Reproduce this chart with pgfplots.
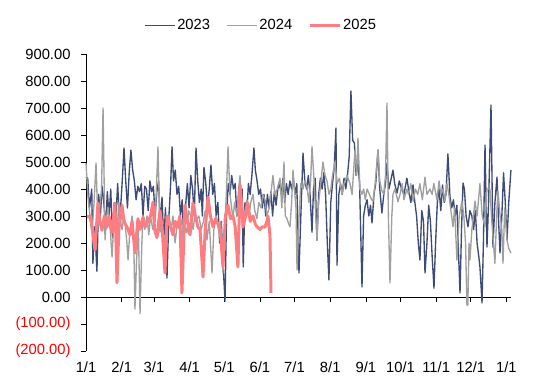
\documentclass[border=0pt]{standalone}
\usepackage{fontspec}
\setmainfont{Liberation Sans}
\usepackage{pgfplots}
\pgfplotsset{compat=1.18}
\definecolor{navy23}{HTML}{3D4B75}
\definecolor{gray24}{HTML}{A0A0A0}
\definecolor{red25}{HTML}{FF7C80}
\begin{document}
\begin{tikzpicture}
\begin{axis}[
  scale only axis,
  width=424.7bp, height=297bp,
  xmin=0, xmax=368.7, ymin=-200, ymax=900,
  axis y line=left, axis x line=middle,
  hide obscured x ticks=false,
  hide obscured y ticks=false,
  x axis line style={-, black, line width=0.8pt},
  y axis line style={-, black, line width=0.8pt},
  tick align=outside,
  major tick length=5bp,
  tick style={black, line width=0.8pt},
  ytick={-200,-100,0,100,200,300,400,500,600,700,800,900},
  yticklabels={\textcolor{red}{(200.00)},\textcolor{red}{(100.00)},0.00,100.00,200.00,300.00,400.00,500.00,600.00,700.00,800.00,900.00},
  xtick={0,31,59,90,120,151,181,212,243,273,304,334,365},
  xticklabels={1/1,2/1,3/1,4/1,5/1,6/1,7/1,8/1,9/1,10/1,11/1,12/1,1/1},
  every tick label/.append style={font=\fontsize{14.8}{17}\selectfont},
  xticklabel style={anchor=center, yshift=-65bp},
  yticklabel style={xshift=-7bp},
  legend columns=3,
  legend style={draw=none, fill=none, at={(0.412,1.097)}, anchor=center,
    font=\fontsize{14.8}{17}\selectfont,
    /tikz/every even column/.append style={column sep=14bp}},
  legend image code/.code={\draw[#1] (0bp,0bp) -- (30bp,0bp);},
  clip=false,
  line join=round,
]
\addplot[navy23, line width=1.35pt] coordinates {
(0,445)(1.5,440)(3,330)(5,400)(6,125)(7.5,260)(9.5,95)(11,380)(12.5,300)(14,410)(15.5,350)(17,250)(18.5,390)(20,300)(21.5,400)(23,220)(24.5,350)(26,300)(27.5,420)(29,280)(30.5,360)(32,470)(33,552)(34.5,430)(36,330)(37.5,460)(39,544)(40.5,470)(42,430)(43.5,360)(45,410)(46.5,390)(48,420)(49.5,300)(51,410)(52.5,400)(54,320)(55.5,430)(57,390)(58.5,410)(60,300)(61.5,390)(63,430)(64.5,260)(66,370)(67.5,200)(69,330)(70.3,70)(72,300)(73.5,420)(74.7,556)(76,430)(77.5,470)(79,380)(80.5,410)(82,300)(83.5,360)(85,200)(86.5,340)(88,420)(89.5,330)(91,450)(92.5,400)(94,300)(95.5,552)(97,430)(98.5,350)(100,400)(101,300)(102.4,480)(104,420)(105.5,330)(107,400)(108.5,489)(110,380)(111.5,420)(113,300)(114.5,350)(116,200)(117.5,280)(119,120)(120.7,-15)(122,300)(123.5,420)(125,380)(126.5,450)(128,400)(129.5,420)(131,300)(132.5,380)(134,300)(135.5,400)(136.5,111)(138,350)(139.5,300)(141,420)(142.5,380)(144,450)(145.8,552)(147,470)(148.5,430)(150,380)(151.5,400)(153,330)(154.5,380)(156,300)(157.5,380)(159,330)(160.5,390)(162,300)(163.5,390)(165,340)(166.5,400)(168,420)(169.5,380)(171,440)(172.5,350)(174,420)(175.5,380)(177,430)(178.5,400)(180,440)(181.5,380)(183,420)(184.9,89)(186.5,300)(188.4,533)(190,430)(191.5,400)(193,450)(194.5,380)(196.2,240)(197.5,400)(199,440)(200.5,210)(202,380)(203.5,440)(205,400)(206.5,460)(208,380)(209.5,200)(210.9,63)(212.5,350)(214,420)(215.5,480)(217,626)(217.9,118)(219.5,380)(221,420)(222.5,380)(224,440)(225.5,400)(227,450)(228.5,520)(230,763)(231.5,580)(233,570)(234.5,450)(236,500)(237.5,420)(239.6,37)(241,300)(242.5,340)(244,360)(245.5,300)(247,340)(248.3,274)(250,380)(251.5,420)(253.5,544)(255,400)(256.9,311)(258.5,380)(260,420)(261.3,496)(263,400)(264.5,430)(266.5,470)(268,420)(270,385)(272,430)(274,400)(276,380)(278.6,440)(280,400)(282,350)(283.9,415)(285.5,350)(287,300)(288.5,200)(289.9,137)(291.5,320)(293,280)(294.3,89)(296,200)(297.5,340)(299,280)(300.5,150)(302.1,33)(303.5,200)(305,350)(306.5,400)(308,320)(309.5,415)(311,350)(312.5,380)(314.2,530)(316,370)(317.5,330)(319,360)(320.5,300)(322,340)(323.5,150)(324.7,15)(326,250)(327.3,422)(328.5,400)(330,300)(331.6,260)(333.3,320)(335,300)(336.5,250)(338,320)(339.5,200)(341,150)(342,111)(343.8,-22)(345,200)(346.4,563)(348.1,185)(349.5,350)(351.6,711)(353.3,185)(355,350)(356.8,444)(358,300)(359.4,163)(361,300)(362.5,460)(364,350)(365.5,211)(367,350)(368.9,470)
};
\addlegendentry{2023}
\addplot[gray24, line width=1.35pt] coordinates {
(0,496)(1.7,370)(3.5,300)(5.2,237)(7,350)(8.7,496)(10.4,262)(12,330)(13.5,400)(14.8,700)(16.5,211)(18,300)(19.1,333)(21,250)(22.6,148)(24,260)(25.2,300)(26.9,237)(28.5,350)(30,280)(31.3,250)(33,300)(34,270)(35.5,200)(36.5,137)(38,240)(40,300)(41.5,200)(42.5,-45)(44,150)(45.5,250)(46.9,-62)(48.5,200)(49.5,296)(51,250)(53,300)(54.5,230)(56,300)(58,250)(60,280)(62.5,556)(64.2,240)(66,270)(68,200)(70,280)(72,300)(74,250)(75.5,300)(77.3,200)(79,260)(81,300)(83,280)(84.5,200)(86,260)(87.7,237)(89,320)(91,300)(93,250)(94.5,300)(96.4,290)(98,300)(100,250)(102,280)(103.5,320)(105,211)(107,280)(109.4,89)(111,250)(113,300)(115.5,237)(117,280)(118.9,89)(120.5,250)(122,400)(123.3,556)(125,380)(127.6,290)(129,350)(131,300)(132.5,400)(133.7,450)(135,350)(137,300)(139.8,360)(141.5,300)(143,350)(145,380)(146.5,320)(148.4,290)(150,350)(152,330)(153.5,380)(155.4,360)(157,300)(159,330)(161,400)(162.3,450)(164,380)(166,400)(168.4,440)(170,330)(171.9,500)(173,300)(174.5,290)(176,270)(177.1,260)(178.5,350)(179.7,470)(181,400)(182.3,330)(183.2,100)(185,300)(186.5,420)(188.4,400)(190,430)(191.8,410)(193.5,350)(195,430)(196.2,557)(198,430)(200.5,211)(202,350)(204,430)(205.7,500)(207.5,450)(209.2,430)(211,380)(212.5,400)(214,450)(216.1,500)(218,420)(220,440)(222.2,380)(224,420)(226.6,450)(229.2,420)(231,380)(233.5,544)(235,450)(236.1,589)(237.8,400)(239.6,380)(241,400)(242.5,360)(244,400)(246,380)(248,360)(249.1,355)(251,420)(253.5,544)(255,430)(256.9,393)(258.5,380)(260,450)(261.3,718)(262.5,300)(263.9,52)(265.5,300)(266.5,380)(268.2,400)(270,370)(270.8,353)(272.6,380)(274.5,420)(276,360)(278.6,400)(280,380)(282,420)(284,355)(286,400)(288,380)(289.9,420)(292,360)(294.3,444)(296,380)(298.6,400)(300.5,380)(302,420)(304.7,360)(306.5,430)(308,380)(310,400)(311.5,355)(313.4,420)(315,380)(316.5,330)(318.6,260)(320,330)(322,137)(324,300)(326.4,355)(328,300)(329.5,200)(330.7,-30)(331.5,-30)(332.5,200)(333.3,137)(335,250)(337.7,355)(339.5,300)(342,420)(344,300)(346.4,260)(348.1,400)(350.7,400)(352,300)(355,125)(356.5,300)(357.6,393)(359.5,300)(361,250)(362,125)(363.5,330)(365.5,211)(367,180)(368.9,163)
};
\addlegendentry{2024}
\addplot[red25, line width=3pt] coordinates {
(0.9,296)(3.5,300)(5.2,259)(7.8,174)(10.4,348)(12,280)(13.9,247)(16,300)(18.2,259)(20,300)(22.6,240)(25.2,348)(26.9,52)(28.5,250)(31.3,340)(33,280)(35.6,259)(38.2,230)(40,280)(42.5,163)(45.1,290)(47,250)(49.5,296)(51.5,260)(53.8,280)(56,300)(58.2,352)(59.5,250)(61.6,220)(64.2,320)(66,260)(68.6,89)(70.3,300)(72,280)(75.5,230)(77.5,280)(79.9,259)(81.5,300)(83.3,15)(85.9,340)(88,280)(90.3,230)(92.9,348)(95,300)(97.2,259)(99,250)(101.6,74)(103.5,250)(105.9,370)(108,300)(110.2,260)(112.5,290)(114.6,270)(116.5,250)(118.9,111)(121,300)(123.3,340)(125.5,290)(127.6,300)(129.5,260)(131.9,111)(133.7,415)(135,350)(136.3,259)(138.5,300)(140.6,348)(142.5,280)(145,300)(147,270)(148.4,260)(151,250)(153,260)(155.4,259)(157.1,280)(158,300)(159.7,230)(160.6,15)
};
\addlegendentry{2025}
\end{axis}
\pgfresetboundingbox
\path[use as bounding box] (current axis.south west) ++(-86bp,-25bp) rectangle ++(538bp,376bp);
\end{tikzpicture}
\end{document}
